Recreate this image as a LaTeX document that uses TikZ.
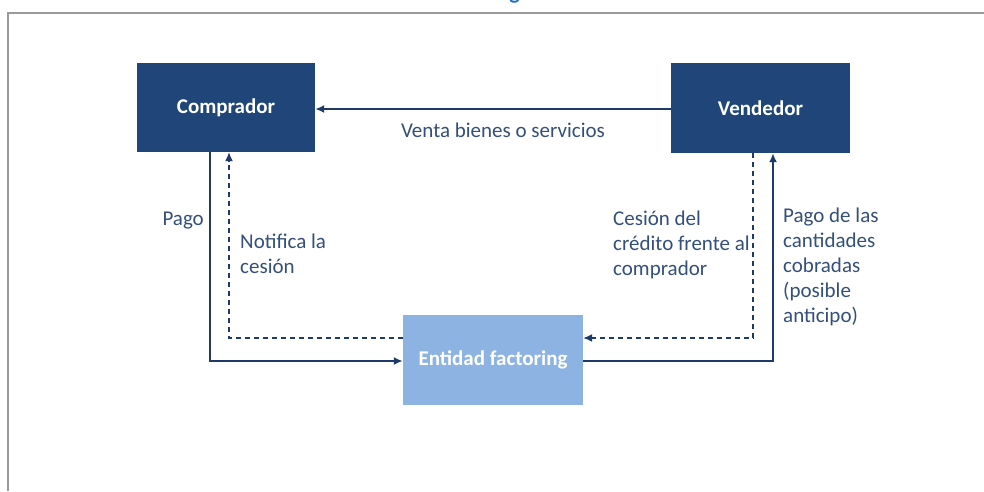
\documentclass[tikz,border=0pt]{standalone}
\usepackage{fontspec}
\setmainfont{Carlito}
\usetikzlibrary{arrows.meta}
\definecolor{navy}{HTML}{1F4579}
\definecolor{lightbox}{HTML}{8DB3E2}
\definecolor{txt}{HTML}{34507A}
\definecolor{lin}{HTML}{1F3A68}
\definecolor{framegray}{HTML}{9A9A9A}
\definecolor{titleblue}{HTML}{1F6FC6}
\tikzset{
  darkbox/.style={fill=navy, text=white, font=\fontsize{21}{25}\selectfont\bfseries, minimum width=178pt, minimum height=89pt, inner sep=0pt},
  lightboxst/.style={fill=lightbox, text=white, font=\fontsize{21}{25}\selectfont\bfseries, minimum width=180pt, minimum height=90pt, inner sep=0pt},
  solidarrow/.style={lin, line width=1.8pt, -{Latex[length=9pt,width=8pt]}},
  dasharrow/.style={lin, line width=1.3pt, dash pattern=on 5pt off 4pt, -{Latex[length=9pt,width=8pt]}},
  lbl/.style={text=txt, font=\fontsize{21}{25}\selectfont, inner sep=0pt, align=left},
}
\begin{document}
\begin{tikzpicture}[x=1pt,y=-1pt]
\useasboundingbox (0,0) rectangle (984,491);
\fill[white] (0,0) rectangle (984,491);
\node[text=titleblue, font=\fontsize{22}{26}\selectfont\bfseries, anchor=base east, inner sep=0pt] (title) at (520,-1) {Factoring};
\draw[framegray, line width=2pt] (8,491) -- (8,13) -- (984,13);

\node[darkbox] (comp) at (226,107.5) {Comprador};
\node[darkbox, minimum width=179pt, minimum height=90pt] (vend) at (760.5,108) {Vendedor};
\node[lightboxst] (ent) at (493,360) {Entidad factoring};

% venta
\draw[solidarrow] (vend.west |- 0,109) -- (comp.east |- 0,109);
\node[lbl, anchor=base] (venta) at (503,137) {Venta bienes o servicios};

% pago comprador -> entidad
\coordinate (pagoc) at (210,361);
\draw[solidarrow] (comp.south -| pagoc) -- (pagoc) -- (ent.west |- pagoc);
\node[lbl, anchor=base east] (pago) at (204,225) {Pago};

% notifica: entidad -> comprador (dashed)
\coordinate (notc) at (229,338);
\draw[dasharrow] (ent.west |- notc) -- (notc) -- (comp.south -| notc);
\node[lbl, anchor=base west] (notif) at (240,273) {Notifica la\\cesión};

% cesion: vendedor -> entidad (dashed)
\coordinate (cesc) at (753,338);
\draw[dasharrow] (vend.south -| cesc) -- (cesc) -- (ent.east |- cesc);
\node[lbl, anchor=base west] (cesion) at (613,275) {Cesión del\\crédito frente al\\comprador};

% pago cantidades: entidad -> vendedor
\coordinate (pagov) at (773,361);
\draw[solidarrow] (ent.east |- pagov) -- (pagov) -- (vend.south -| pagov);
\node[lbl, anchor=base west] (pagocant) at (783,322) {Pago de las\\cantidades\\cobradas\\(posible\\anticipo)};
\end{tikzpicture}
\end{document}
